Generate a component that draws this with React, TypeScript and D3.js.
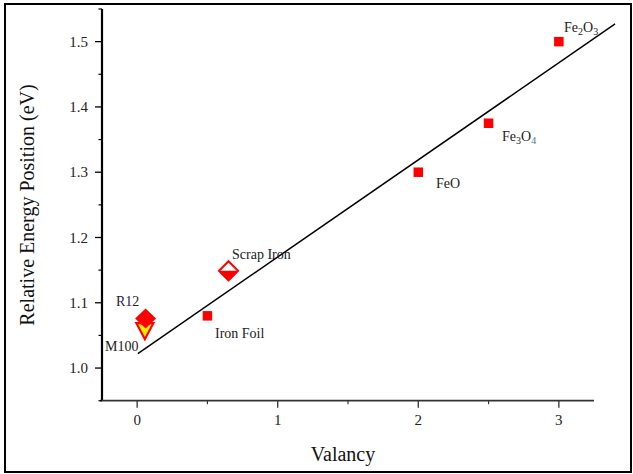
import React from "react";
import * as d3 from "d3";

const W = 633;
const H = 474;

// Data
const squareNames = ["Iron Foil", "FeO", "Fe3O4", "Fe2O3"];
const squareX = [0.5, 2.0, 2.5, 3.0];
const squareY = [1.08, 1.3, 1.375, 1.5];

const r12 = { name: "R12", x: 0.06, y: 1.076 };
const m100 = { name: "M100", x: 0.055, y: 1.058 };
const scrap = { name: "Scrap Iron", x: 0.65, y: 1.149 };

const fitX = [0.005, 3.4];
const fitIntercept = 1.0215;
const fitSlope = 0.1487;

const xTicks = [0, 1, 2, 3];
const xMinor = [0.5, 1.5, 2.5];
const yTicks = [1.0, 1.1, 1.2, 1.3, 1.4, 1.5];
const yMinor = [0.95, 1.05, 1.15, 1.25, 1.35, 1.45, 1.55];

const FONT = "'Liberation Serif', 'Times New Roman', serif";

export default function App() {
  const x = d3.scaleLinear().domain([-0.25, 3.25]).range([102, 594]);
  const y = d3.scaleLinear().domain([0.95, 1.55]).range([400.7, 9]);
  const axisY = y(0.95);
  const axisX = x(-0.25);

  const line = d3
    .line<number>()
    .x((d) => x(d))
    .y((d) => y(fitIntercept + fitSlope * d));

  const sq = 9.5;

  const diamond = (cx: number, cy: number, hw: number, hh: number) =>
    `M${cx},${cy - hh}L${cx + hw},${cy}L${cx},${cy + hh}L${cx - hw},${cy}Z`;

  const rx = x(r12.x), ry = y(r12.y);
  const mx = x(m100.x), my = y(m100.y);
  const sx = x(scrap.x), sy = y(scrap.y);

  return (
    <svg
      width={W}
      height={H}
      style={{ position: "absolute", left: 0, top: 0, background: "#fff" }}
      fontFamily={FONT}
    >
      <rect x={0} y={0} width={W} height={H} fill="#fff" />
      <rect x={5} y={4} width={626} height={468} fill="none" stroke="#000" strokeWidth={2} />

      {/* axes */}
      <line x1={axisX} x2={axisX} y1={9} y2={axisY} stroke="#000" strokeWidth={2.2} />
      <line x1={100} x2={594} y1={axisY} y2={axisY} stroke="#333" strokeWidth={1.8} />

      {yTicks.map((t) => (
        <g key={"yt" + t}>
          <line x1={axisX - 7} x2={axisX} y1={y(t)} y2={y(t)} stroke="#000" strokeWidth={1.3} />
          <text x={88} y={y(t)} dy="0.35em" textAnchor="end" fontSize={15} fill="#222">
            {t.toFixed(1)}
          </text>
        </g>
      ))}
      {yMinor.map((t) => (
        <line key={"ym" + t} x1={axisX - 3.5} x2={axisX} y1={y(t)} y2={y(t)} stroke="#000" strokeWidth={1.2} />
      ))}
      {xTicks.map((t) => (
        <g key={"xt" + t}>
          <line x1={x(t)} x2={x(t)} y1={axisY} y2={axisY + 7} stroke="#333" strokeWidth={1.3} />
          <text x={x(t)} y={425} textAnchor="middle" fontSize={15} fill="#222">
            {t}
          </text>
        </g>
      ))}
      {xMinor.map((t) => (
        <line key={"xm" + t} x1={x(t)} x2={x(t)} y1={axisY} y2={axisY + 3.5} stroke="#333" strokeWidth={1.2} />
      ))}

      <text x={343} y={461} textAnchor="middle" fontSize={20} fill="#111">
        Valancy
      </text>
      <text
        transform={`translate(34,205) rotate(-90)`}
        textAnchor="middle"
        fontSize={20}
        fill="#111"
      >
        Relative Energy Position (eV)
      </text>

      {/* fit line */}
      <path d={line(fitX) || ""} fill="none" stroke="#000" strokeWidth={1.5} />

      {/* square markers */}
      {squareX.map((v, i) => (
        <rect
          key={"sq" + i}
          x={x(v) - sq / 2}
          y={y(squareY[i]) - sq / 2}
          width={sq}
          height={sq}
          fill="#ff0000"
        />
      ))}

      {/* M100 down triangle */}
      <path
        d={`M${mx - 8.5},${my - 7}L${mx + 8.5},${my - 7}L${mx},${my + 9}Z`}
        fill="#ffee00"
        stroke="#ff0000"
        strokeWidth={2.2}
        strokeLinejoin="miter"
      />
      {/* R12 diamond */}
      <path d={diamond(rx, ry, 10.5, 10)} fill="#ff0000" />

      {/* Scrap iron half-filled diamond */}
      <path
        d={`M${sx - 10.5},${sy}L${sx},${sy + 10.5}L${sx + 10.5},${sy}Z`}
        fill="#ff0000"
      />
      <path d={diamond(sx, sy, 9.5, 9.5)} fill="none" stroke="#ff0000" strokeWidth={2} />

      {/* labels */}
      <g fontSize={14} fill="#222">
        <text x={564} y={32}>
          Fe<tspan fontSize={10} dy={3}>2</tspan>
          <tspan dy={-3}>O</tspan>
          <tspan fontSize={10} dy={3}>3</tspan>
        </text>
        <text x={502} y={141}>
          Fe<tspan fontSize={10} dy={3}>3</tspan>
          <tspan dy={-3}>O</tspan>
          <tspan fontSize={10} dy={3} fill="#4a6fa5">4</tspan>
        </text>
        <text x={436} y={188}>FeO</text>
        <text x={215} y={338}>Iron Foil</text>
        <text x={232} y={259}>Scrap Iron</text>
        <text x={116} y={306} fill="#223">R12</text>
        <text x={105} y={351}>M100</text>
      </g>
    </svg>
  );
}
